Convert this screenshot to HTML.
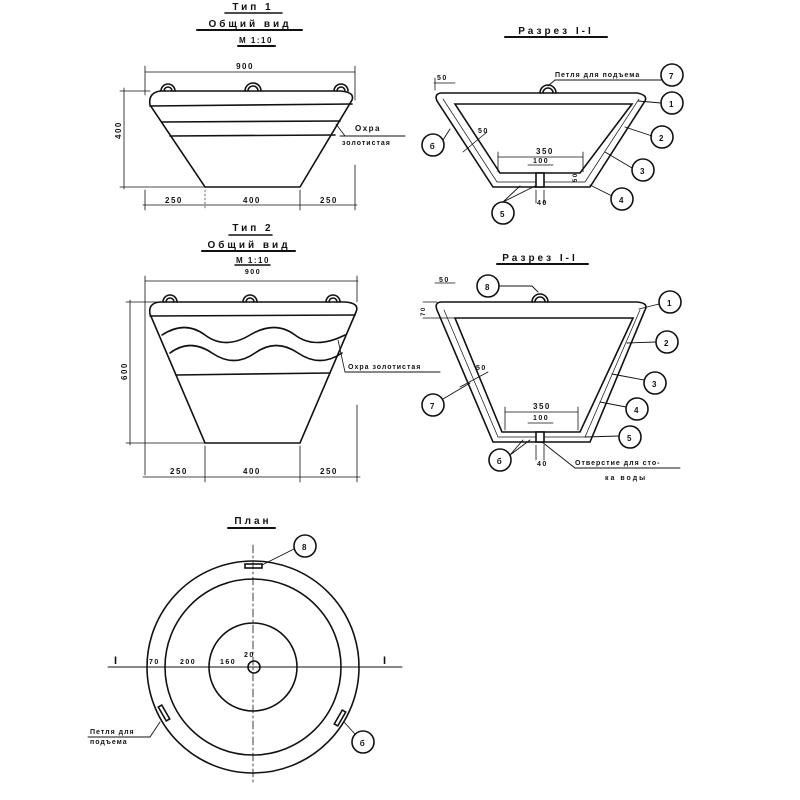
<!DOCTYPE html>
<html><head><meta charset="utf-8"><style>
html,body{margin:0;padding:0;background:#fff;width:800px;height:800px;overflow:hidden}
svg{display:block}
text{font-family:"Liberation Sans","DejaVu Sans",sans-serif;font-weight:bold;fill:#111;font-size:8px;letter-spacing:1.5px}
.t{font-size:10px;letter-spacing:3px}
</style></head><body>
<svg width="800" height="800" viewBox="0 0 800 800" xmlns="http://www.w3.org/2000/svg">
<g stroke="#111" fill="none" stroke-width="1.6" stroke-linecap="round">
<!-- TYPE 1 -->
<line x1="225" y1="13" x2="282" y2="13"/>
<line x1="197" y1="30" x2="302" y2="30" stroke-width="2"/>
<line x1="238" y1="46" x2="275" y2="46" stroke-width="2"/>
<line x1="145" y1="72" x2="355" y2="72" stroke-width="0.8"/>
<line x1="145" y1="66" x2="145" y2="95" stroke-width="0.8"/>
<line x1="355" y1="66" x2="355" y2="100" stroke-width="0.8"/>
<path d="M161 91 A7 7 0 0 1 175 91 M164 91 A4 4 0 0 1 172 91 M245 91 A8 8 0 0 1 261 91 M248 91 A5 5 0 0 1 258 91 M334 91 A7 7 0 0 1 348 91 M337 91 A4 4 0 0 1 345 91"/>
<path d="M160 91 L340 91 Q355 92 352 100 L300 187 L205 187 L150 105 Q148 93 160 91 Z"/>
<line x1="150" y1="106" x2="352" y2="104"/>
<line x1="162" y1="122" x2="340" y2="121"/>
<line x1="170" y1="136" x2="335" y2="135"/>
<line x1="124" y1="88" x2="124" y2="189" stroke-width="0.8"/>
<line x1="120" y1="91" x2="150" y2="91" stroke-width="0.8"/>
<line x1="120" y1="187" x2="205" y2="187" stroke-width="0.8"/>
<line x1="143" y1="205" x2="357" y2="205" stroke-width="0.8"/>
<line x1="145" y1="190" x2="145" y2="210" stroke-width="0.8"/>
<line x1="205" y1="190" x2="205" y2="210" stroke-width="0.6" stroke-dasharray="2 2"/>
<line x1="300" y1="190" x2="300" y2="210" stroke-width="0.8"/>
<line x1="355" y1="165" x2="355" y2="210" stroke-width="0.8"/>
<line x1="336" y1="124" x2="345" y2="136" stroke-width="0.8"/>
<line x1="340" y1="136" x2="405" y2="136" stroke-width="1"/>

<!-- SECTION 1 -->
<line x1="505" y1="37" x2="607" y2="37" stroke-width="2"/>
<path d="M540 93 A8 8 0 0 1 556 93 M543 93 A5 5 0 0 1 553 93"/>
<path d="M441 93 L637 93 Q648 95 645 101 L590 187 L493 187 L437 101 Q434 94 441 93 Z"/>
<path d="M455 104 L632 104 L580 173 L500 173 Z"/>
<path d="M443 99 L497 182 L585 182 L639 99" stroke-width="0.7"/>
<rect x="536" y="173" width="8" height="14" fill="#fff"/>
<line x1="555" y1="80" x2="662" y2="80" stroke-width="0.9"/>
<path d="M555 80 L548 86" stroke-width="0.9"/>
<circle cx="672" cy="75" r="11"/><circle cx="672" cy="103" r="11"/>
<circle cx="662" cy="137" r="11"/><circle cx="643" cy="170" r="11"/>
<circle cx="622" cy="199" r="11"/><circle cx="503" cy="213" r="11"/>
<circle cx="433" cy="145" r="11"/>
<path d="M638 101 L661 103 M625 127 L652 136 M605 152 L632 168 M590 185 L612 196 M503 202 L520 186 M503 202 L535 186 M443 140 L450 129" stroke-width="0.9"/>
<line x1="498" y1="157" x2="583" y2="157" stroke-width="0.8"/>
<line x1="498" y1="152" x2="498" y2="172" stroke-width="0.8"/>
<line x1="583" y1="152" x2="583" y2="172" stroke-width="0.8"/>
<line x1="528" y1="165" x2="553" y2="165" stroke-width="0.8"/>
<line x1="536" y1="190" x2="536" y2="203" stroke-width="0.8"/><line x1="544" y1="190" x2="544" y2="203" stroke-width="0.8"/>
<line x1="434" y1="83" x2="455" y2="83" stroke-width="0.8"/>
<line x1="435" y1="78" x2="435" y2="90" stroke-width="0.8"/>
<line x1="463" y1="152" x2="487" y2="132" stroke-width="0.8"/>

<!-- TYPE 2 -->
<line x1="229" y1="235" x2="272" y2="235"/>
<line x1="202" y1="251" x2="295" y2="251" stroke-width="2"/>
<line x1="235" y1="265" x2="270" y2="265" stroke-width="1.5"/>
<line x1="145" y1="281" x2="358" y2="281" stroke-width="0.8"/>
<line x1="145" y1="276" x2="145" y2="475" stroke-width="0.8"/>
<line x1="357" y1="276" x2="357" y2="302" stroke-width="0.8"/>
<path d="M163 302 A7 7 0 0 1 177 302 M166 302 A4 4 0 0 1 174 302 M243 302 A7 7 0 0 1 257 302 M246 302 A4 4 0 0 1 254 302 M326 302 A7 7 0 0 1 340 302 M329 302 A4 4 0 0 1 337 302"/>
<path d="M160 302 L345 302 Q360 303 356 312 L300 443 L205 443 L150 314 Q148 303 160 302 Z"/>
<line x1="150" y1="316" x2="355" y2="315"/>
<path d="M162 335 Q185 320 205 335 T250 335 T295 335 T345 335"/>
<path d="M170 353 Q190 338 212 353 T255 353 T298 353 T342 353"/>
<line x1="176" y1="375" x2="330" y2="373"/>
<line x1="130" y1="300" x2="130" y2="445" stroke-width="0.8"/>
<line x1="126" y1="302" x2="158" y2="302" stroke-width="0.8"/>
<line x1="126" y1="443" x2="205" y2="443" stroke-width="0.8"/>
<line x1="143" y1="477" x2="360" y2="477" stroke-width="0.8"/>
<line x1="205" y1="446" x2="205" y2="482" stroke-width="0.8"/>
<line x1="300" y1="446" x2="300" y2="482" stroke-width="0.8"/>
<line x1="357" y1="405" x2="357" y2="482" stroke-width="0.8"/>
<line x1="338" y1="340" x2="345" y2="372" stroke-width="0.8"/>
<line x1="345" y1="372" x2="440" y2="372" stroke-width="1"/>

<!-- SECTION 2 -->
<line x1="497" y1="264" x2="588" y2="264" stroke-width="2"/>
<path d="M532 302 A8 8 0 0 1 548 302 M535 302 A5 5 0 0 1 545 302"/>
<path d="M442 302 L637 302 Q649 303 645 310 L590 442 L493 442 L437 310 Q434 302 442 302 Z"/>
<path d="M455 318 L633 318 L580 432 L502 432 Z"/>
<path d="M444 310 L498 437 L585 437 L640 310" stroke-width="0.7"/>
<rect x="536" y="432" width="8" height="10" fill="#fff"/>
<circle cx="488" cy="286" r="11"/>
<path d="M499 286 L532 286 L538 292" stroke-width="0.9"/>
<circle cx="670" cy="302" r="11"/><circle cx="667" cy="342" r="11"/>
<circle cx="655" cy="383" r="11"/><circle cx="637" cy="409" r="11"/>
<circle cx="630" cy="437" r="11"/><circle cx="500" cy="460" r="11"/>
<circle cx="433" cy="405" r="11"/>
<path d="M639 309 L659 304 M627 343 L656 342 M612 374 L644 380 M600 402 L626 407 M585 437 L619 436 M510 455 L523 440 M510 455 L530 440 M443 399 L470 383 M542 442 L575 468 L680 468" stroke-width="0.9"/>
<line x1="505" y1="412" x2="578" y2="412" stroke-width="0.8"/>
<line x1="505" y1="407" x2="505" y2="430" stroke-width="0.8"/>
<line x1="578" y1="407" x2="578" y2="430" stroke-width="0.8"/>
<line x1="528" y1="423" x2="553" y2="423" stroke-width="0.8"/>
<line x1="536" y1="445" x2="536" y2="460" stroke-width="0.8"/><line x1="544" y1="445" x2="544" y2="460" stroke-width="0.8"/>
<line x1="423" y1="302" x2="437" y2="302" stroke-width="0.8"/>
<line x1="423" y1="318" x2="455" y2="318" stroke-width="0.8"/>
<line x1="435" y1="283" x2="455" y2="283" stroke-width="0.8"/>
<line x1="460" y1="387" x2="488" y2="372" stroke-width="0.8"/>

<!-- PLAN -->
<line x1="228" y1="528" x2="275" y2="528" stroke-width="2"/>
<line x1="253" y1="545" x2="253" y2="785" stroke-width="0.8" stroke-dasharray="8 3 2 3"/>
<line x1="108" y1="667" x2="402" y2="667" stroke-width="1"/>
<circle cx="253" cy="667" r="106"/>
<circle cx="253" cy="667" r="88"/>
<circle cx="253" cy="667" r="44"/>
<circle cx="254" cy="667" r="6"/>
<rect x="245" y="564" width="17" height="4"/>
<rect x="162" y="705" width="4" height="16" transform="rotate(-30 164 713)"/>
<rect x="338" y="710" width="4" height="16" transform="rotate(30 340 718)"/>
<circle cx="305" cy="546" r="11"/>
<circle cx="363" cy="742" r="11"/>
<path d="M294 549 L262 565 M355 734 L344 722 M88 737 L150 737 L160 722" stroke-width="0.9"/>
</g>
<g>
<text x="253" y="10" text-anchor="middle" class="t">Тип 1</text>
<text x="250" y="27" text-anchor="middle" class="t">Общий  вид</text>
<text x="256" y="43" text-anchor="middle">М 1:10</text>
<text x="245" y="69" text-anchor="middle">900</text>
<text transform="translate(121 139) rotate(-90)">400</text>
<text x="165" y="203">250</text><text x="243" y="203">400</text><text x="320" y="203">250</text>
<text x="355" y="131">Охра</text>
<text x="342" y="145" style="font-size:7px;letter-spacing:1px">золотистая</text>

<text x="556" y="34" text-anchor="middle" class="t">Разрез I-I</text>
<text x="555" y="77" style="font-size:7px;letter-spacing:1px">Петля для подъема</text>
<text x="437" y="80" style="font-size:7px">50</text>
<text x="536" y="154">350</text><text x="533" y="163" style="font-size:7px">100</text>
<text x="478" y="133" style="font-size:7px">50</text>
<text transform="translate(577 182) rotate(-90)" style="font-size:6px">50</text>
<text x="537" y="205" style="font-size:7px">40</text>
<g text-anchor="middle" style="font-size:9px">
<text x="672" y="79">7</text><text x="672" y="107">1</text><text x="662" y="141">2</text><text x="643" y="174">3</text><text x="622" y="203">4</text><text x="503" y="217">5</text><text x="433" y="149">б</text>
<text x="488" y="290">8</text><text x="670" y="306">1</text><text x="667" y="346">2</text><text x="655" y="387">3</text><text x="637" y="413">4</text><text x="630" y="441">5</text><text x="500" y="464">б</text><text x="433" y="409">7</text>
<text x="305" y="550">8</text><text x="363" y="746">б</text>
</g>

<text x="253" y="231" text-anchor="middle" class="t">Тип 2</text>
<text x="249" y="248" text-anchor="middle" class="t">Общий  вид</text>
<text x="253" y="263" text-anchor="middle">М 1:10</text>
<text x="253" y="274" text-anchor="middle" style="font-size:7px">900</text>
<text transform="translate(127 380) rotate(-90)">600</text>
<text x="170" y="474">250</text><text x="243" y="474">400</text><text x="320" y="474">250</text>
<text x="348" y="369" style="font-size:7px;letter-spacing:1px">Охра золотистая</text>

<text x="540" y="261" text-anchor="middle" class="t">Разрез I-I</text>
<text x="439" y="282" style="font-size:7px">50</text>
<text transform="translate(425 316) rotate(-90)" style="font-size:6px">70</text>
<text x="476" y="370" style="font-size:7px">50</text>
<text x="533" y="409">350</text><text x="533" y="420" style="font-size:7px">100</text>
<text x="537" y="466" style="font-size:7px">40</text>
<text x="575" y="465" style="font-size:7px;letter-spacing:1px">Отверстие для сто-</text>
<text x="605" y="480" style="font-size:7px;letter-spacing:2px">ка воды</text>

<text x="253" y="524" text-anchor="middle" class="t">План</text>
<text x="114" y="664" style="font-size:11px">I</text><text x="383" y="664" style="font-size:11px">I</text>
<text x="149" y="664" style="font-size:7px">70</text>
<text x="180" y="664" style="font-size:7px">200</text>
<text x="220" y="664" style="font-size:7px">160</text>
<text x="244" y="657" style="font-size:7px">20</text>
<text x="90" y="734" style="font-size:7px;letter-spacing:1px">Петля для</text>
<text x="90" y="744" style="font-size:7px;letter-spacing:1px">подъема</text>
</g>
</svg>
</body></html>
